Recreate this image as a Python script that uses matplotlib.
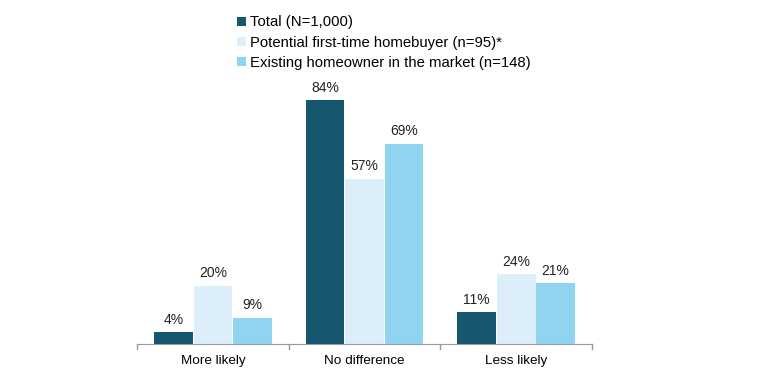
import numpy as np
import matplotlib.pyplot as plt
from matplotlib.patches import Patch

categories = ["More likely", "No difference", "Less likely"]
series_names = [
    "Total (N=1,000)",
    "Potential first-time homebuyer (n=95)*",
    "Existing homeowner in the market (n=148)",
]
total = [4, 84, 11]
first_time = [20, 57, 24]
existing = [9, 69, 21]

colors = ["#17566F", "#DCEEF9", "#8FD4F1"]

plt.rcParams["font.family"] = ["Liberation Sans", "DejaVu Sans"]

fig = plt.figure(figsize=(7.59, 3.80), dpi=100)
ax = fig.add_axes([0.1805, 0.0947, 0.5995, 0.687])

x = np.arange(len(categories))
width = 0.26
for i, (vals, col) in enumerate(zip([total, first_time, existing], colors)):
    pos = x + (i - 1) * width
    ax.bar(pos, vals, width=width * 0.98, color=col, label=series_names[i])
    for p, v in zip(pos, vals):
        ax.text(p, v + 1.9, f"{v}%", ha="center", va="bottom", fontsize=10, color="#222222")

ax.set_xlim(-0.5, 2.5)
ax.set_ylim(0, 90)
ax.set_yticks([])
for s in ["top", "right", "left"]:
    ax.spines[s].set_visible(False)
ax.spines["bottom"].set_color("#999999")
ax.set_xticks(x)
ax.set_xticklabels(categories, fontsize=9.7)
ax.tick_params(axis="x", length=0, pad=8)
# boundary ticks between categories
for b in [-0.5, 0.5, 1.5, 2.5]:
    ax.plot([b, b], [0, -1.8], color="#999999", lw=1, clip_on=False)

handles = [Patch(facecolor=c, edgecolor="none") for c in colors]
fig.legend(handles, series_names, loc="upper left", bbox_to_anchor=(0.305, 0.975),
           frameon=False, fontsize=10.7, handlelength=0.55, handleheight=0.55,
           handletextpad=0.3, labelspacing=0.42, borderaxespad=0)

fig.savefig("out.png", dpi=100)
